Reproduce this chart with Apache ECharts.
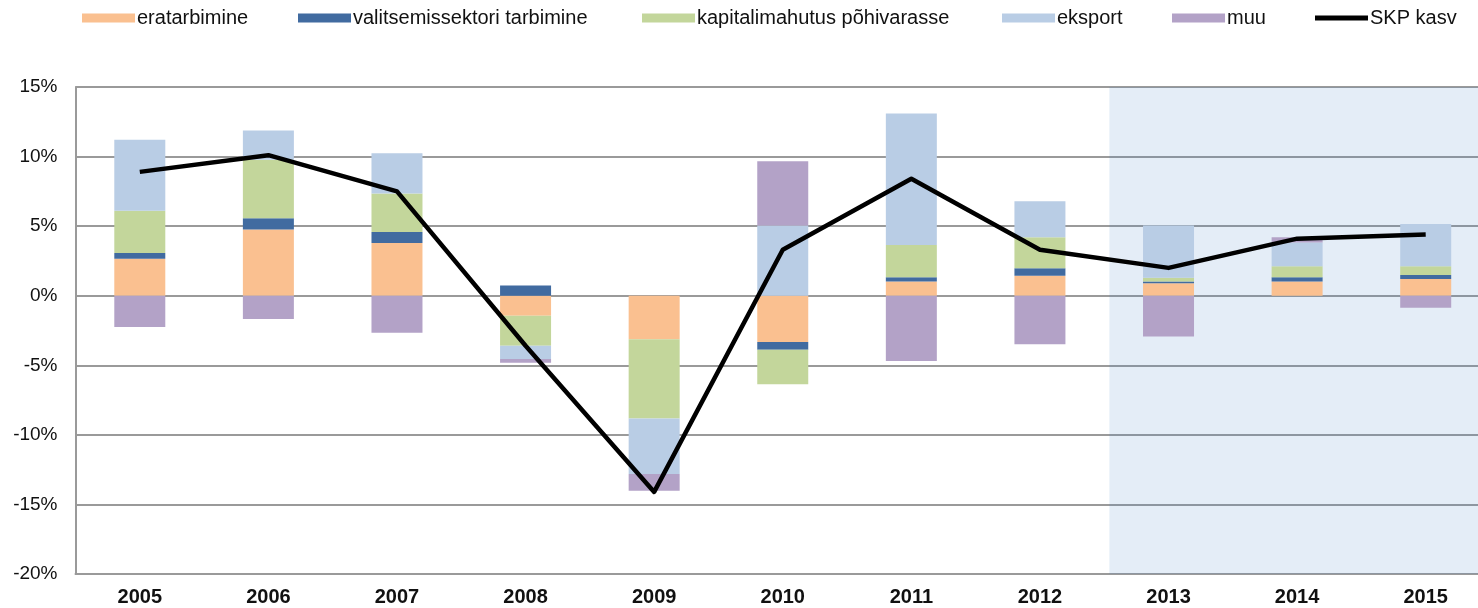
<!DOCTYPE html>
<html lang="et">
<head>
    <meta charset="utf-8">
    <title>SKP kasvu komponendid</title>
    <script src="https://cdn.jsdelivr.net/npm/echarts@6/dist/echarts.min.js"></script>
    <style type="text/css">
        html, body { margin: 0; padding: 0; background: #fff; overflow: hidden; }
        /* joonis on paremalt äärest veidi välja lõigatud, nagu originaalis */
        #main { width: 1492px; height: 608px; }
    </style>
</head>
<body>
    <div id="main"></div>
    <script type="text/javascript">
        // aastad
        var years = ['2005', '2006', '2007', '2008', '2009', '2010', '2011', '2012', '2013', '2014', '2015'];

        // panused SKP kasvu (protsendipunktid)
        var eratarbimine = [2.66, 4.75, 3.79, -1.44, -3.12, -3.33, 1.03, 1.44, 0.89, 1.03, 1.20];
        var valitsemissektor = [0.41, 0.81, 0.79, 0.74, 0, -0.55, 0.29, 0.53, 0.14, 0.29, 0.29];
        var kapitalimahutus = [3.04, 4.22, 2.76, -2.16, -5.71, -2.48, 2.33, 2.23, 0.26, 0.79, 0.62];
        var eksport = [5.10, 2.09, 2.90, -0.95, -3.98, 5.04, 9.44, 2.59, 3.75, 1.72, 3.05];
        var muu = [-2.25, -1.68, -2.66, -0.27, -1.20, 4.62, -4.70, -3.48, -2.93, 0.37, -0.86];
        var skpKasv = [8.9, 10.1, 7.5, -3.6, -14.1, 3.3, 8.4, 3.3, 2.0, 4.1, 4.4];

        var FONT = 'Liberation Sans';
        var chartDom = document.getElementById('main');
        var myChart = echarts.init(chartDom);

        function leg(name, left, icon, h) {
            return {
                data: [{ name: name, icon: icon }],
                left: left,
                top: 8,
                padding: 0,
                itemWidth: 53,
                itemHeight: h,
                textStyle: { fontFamily: FONT, fontSize: 20, color: '#111', padding: [0, 0, 0, -3] }
            };
        }

        function barSerie(name, data, color) {
            return {
                name: name,
                type: 'bar',
                stack: 'kokku',
                data: data,
                barWidth: 51,
                z: 2,
                itemStyle: { color: color },
                emphasis: { disabled: true }
            };
        }

        var option = {
            animation: false,
            backgroundColor: '#ffffff',
            legend: [
                leg('eratarbimine', 82, 'rect', 9),
                leg('valitsemissektori tarbimine', 298, 'rect', 9),
                leg('kapitalimahutus põhivarasse', 642, 'rect', 9),
                leg('eksport', 1002, 'rect', 9),
                leg('muu', 1172, 'rect', 9),
                leg('SKP kasv', 1315, 'rect', 5)
            ],
            grid: {
                left: 75.5,
                top: 87,
                right: 2,
                bottom: 34,
                containLabel: false
            },
            xAxis: [
                {
                    type: 'category',
                    data: years,
                    boundaryGap: true,
                    axisLine: { onZero: false, lineStyle: { color: '#9a9a9a', width: 2 } },
                    axisTick: { show: false },
                    axisLabel: {
                        fontFamily: FONT, fontSize: 20, fontWeight: 'bold', color: '#111', margin: 13
                    },
                    splitLine: { show: false }
                },
                {
                    // abitelg prognoosiperioodi varjutuse jaoks
                    type: 'value',
                    min: 0,
                    max: 11,
                    show: false
                }
            ],
            yAxis: {
                type: 'value',
                min: -20,
                max: 15,
                interval: 5,
                axisLine: { show: true, lineStyle: { color: '#9a9a9a', width: 2 } },
                axisTick: { show: false },
                axisLabel: {
                    formatter: '{value}%', fontFamily: FONT, fontSize: 19, color: '#111', margin: 18
                },
                splitLine: { lineStyle: { color: '#9a9a9a', width: 2 } }
            },
            series: [
                barSerie('eratarbimine', eratarbimine, '#fac090'),
                barSerie('valitsemissektori tarbimine', valitsemissektor, '#416ba0'),
                barSerie('kapitalimahutus põhivarasse', kapitalimahutus, '#c3d69b'),
                barSerie('eksport', eksport, '#b9cde5'),
                barSerie('muu', muu, '#b3a2c7'),
                {
                    name: 'prognoos',
                    type: 'line',
                    xAxisIndex: 1,
                    data: [],
                    z: 3,
                    silent: true,
                    markArea: {
                        silent: true,
                        itemStyle: { color: 'rgba(62,126,198,0.14)' },
                        data: [[{ xAxis: 8.04 }, { xAxis: 11 }]]
                    }
                },
                {
                    name: 'SKP kasv',
                    type: 'line',
                    data: skpKasv,
                    z: 5,
                    symbol: 'none',
                    lineStyle: { color: '#000', width: 4.5, join: 'round' },
                    itemStyle: { color: '#000' },
                    emphasis: { disabled: true }
                }
            ]
        };

        option && myChart.setOption(option);
    </script>
</body>
</html>
